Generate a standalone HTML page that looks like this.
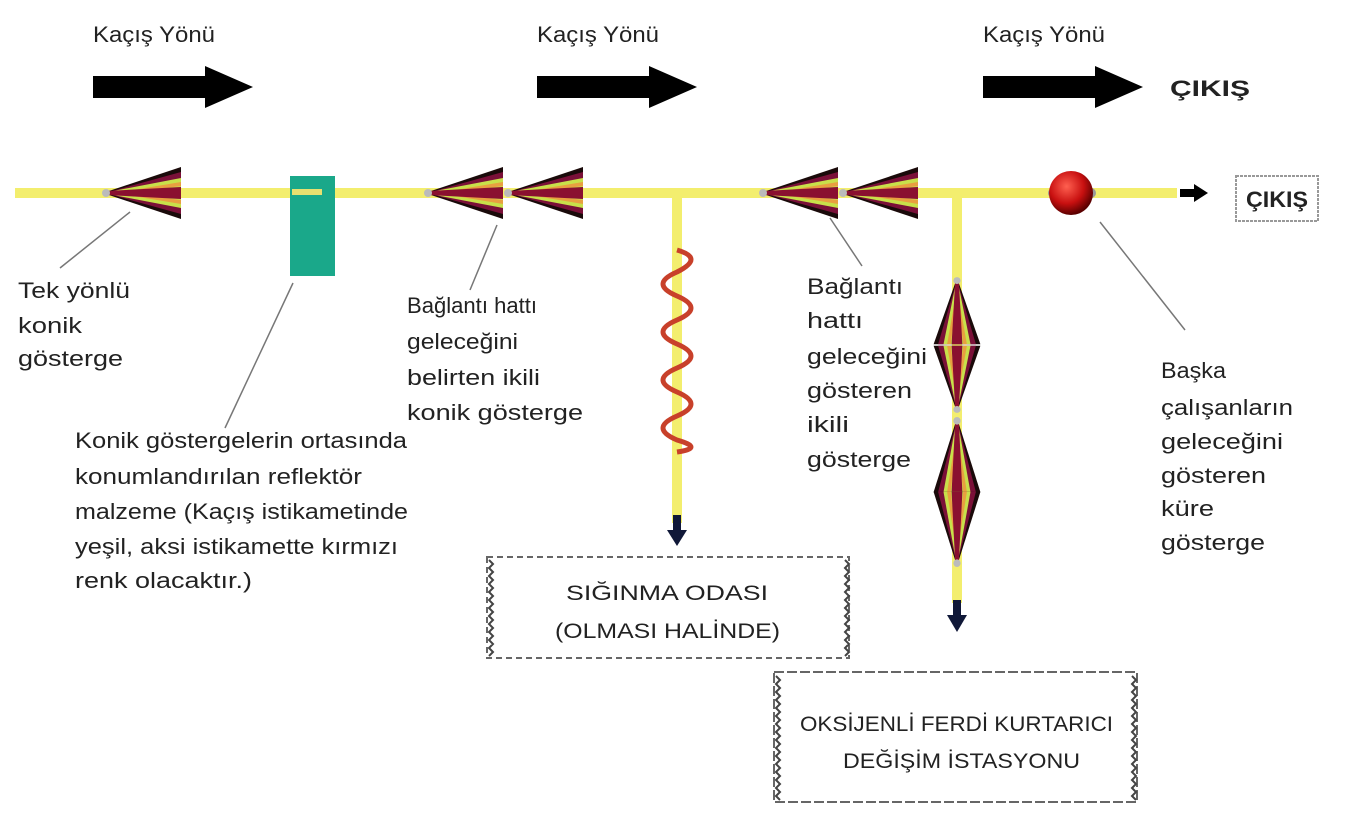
<!DOCTYPE html>
<html><head><meta charset="utf-8"><style>
html,body{margin:0;padding:0;background:#fff;}
svg{display:block;}
text{font-family:"Liberation Sans","DejaVu Sans",sans-serif;fill:#222;}
</style></head><body>
<svg width="1356" height="837" viewBox="0 0 1356 837" xmlns="http://www.w3.org/2000/svg">
<defs>
<g id="cone">
 <polygon points="0,0 78,-26 78,26" fill="#1a0a0a"/>
 <polygon points="2,0 78,-21 78,21" fill="#7a1038"/>
 <polygon points="10,-2 78,-15 78,15 10,2" fill="#c8e04a"/>
 <polygon points="30,-3 78,-11 78,-7 30,-1" fill="#e8a040"/>
 <polygon points="30,3 78,11 78,7 30,1" fill="#e8a040"/>
 <polygon points="4,-2 78,-6 78,6 4,2" fill="#8a1030"/>
 <circle cx="3" cy="0" r="4" fill="#bbb"/>
</g>
<g id="arrow">
 <polygon points="0,-11 112,-11 112,-21 160,0 112,21 112,11 0,11" fill="#000"/>
</g>
<radialGradient id="sph" cx="0.4" cy="0.35" r="0.65">
<stop offset="0" stop-color="#ff6050"/><stop offset="0.6" stop-color="#c81010"/><stop offset="1" stop-color="#5a0000"/></radialGradient>
</defs>

<g font-size="22">
<text x="93" y="42" textLength="122" lengthAdjust="spacingAndGlyphs">Kaçış Yönü</text>
<text x="537" y="42" textLength="122" lengthAdjust="spacingAndGlyphs">Kaçış Yönü</text>
<text x="983" y="42" textLength="122" lengthAdjust="spacingAndGlyphs">Kaçış Yönü</text>
</g>
<use href="#arrow" x="93" y="87"/>
<use href="#arrow" x="537" y="87"/>
<use href="#arrow" x="983" y="87"/>
<text x="1170" y="96" font-size="22" font-weight="bold" fill="#111" textLength="80" lengthAdjust="spacingAndGlyphs">ÇIKIŞ</text>

<rect x="15" y="188" width="1162" height="10" fill="#f3ee6e"/>
<rect x="672" y="193" width="10" height="330" fill="#f3ee6e"/>
<rect x="952" y="193" width="10" height="410" fill="#f3ee6e"/>
<rect x="673" y="515" width="8" height="20" fill="#101838"/>
<polygon points="667,530 687,530 677,546" fill="#101838"/>
<rect x="953" y="600" width="8" height="20" fill="#101838"/>
<polygon points="947,615 967,615 957,632" fill="#101838"/>

<path d="M677,250 q28,8 0,22 q-28,12 0,24 q28,12 0,24 q-28,12 0,24 q28,12 0,24 q-28,12 0,24 q28,12 0,24 q-28,12 0,24 q28,8 0,12" stroke="#c8402a" stroke-width="5" fill="none"/>

<rect x="290" y="176" width="45" height="100" fill="#1aa88a"/>
<rect x="292" y="189" width="30" height="6" fill="#e8e070"/>

<use href="#cone" x="103" y="193"/>
<use href="#cone" x="425" y="193"/>
<use href="#cone" x="505" y="193"/>
<use href="#cone" x="760" y="193"/>
<use href="#cone" x="840" y="193"/>

<use href="#cone" transform="translate(957,278) rotate(90) scale(0.85,0.9)"/>
<use href="#cone" transform="translate(957,412) rotate(-90) scale(0.85,0.9)"/>
<use href="#cone" transform="translate(957,418) rotate(90) scale(0.95,0.9)"/>
<use href="#cone" transform="translate(957,566) rotate(-90) scale(0.95,0.9)"/>

<circle cx="1053" cy="193" r="5" fill="#999"/>
<circle cx="1091" cy="193" r="5" fill="#999"/>
<circle cx="1071" cy="193" r="22" fill="url(#sph)"/>

<rect x="1180" y="189" width="16" height="8" fill="#000"/>
<polygon points="1194,184 1208,193 1194,202" fill="#000"/>
<rect x="1236" y="176" width="82" height="45" fill="#fff" stroke="#999" stroke-width="2" stroke-dasharray="3,1"/>
<text x="1246" y="207" font-size="22" font-weight="bold" fill="#111" textLength="62" lengthAdjust="spacingAndGlyphs">ÇIKIŞ</text>

<g stroke="#777" stroke-width="1.5">
<line x1="130" y1="212" x2="60" y2="268"/>
<line x1="293" y1="283" x2="225" y2="428"/>
<line x1="497" y1="225" x2="470" y2="290"/>
<line x1="830" y1="218" x2="862" y2="266"/>
<line x1="1100" y1="222" x2="1185" y2="330"/>
</g>

<g font-size="22" lengthAdjust="spacingAndGlyphs">
<text x="18" y="298" textLength="112" lengthAdjust="spacingAndGlyphs">Tek yönlü</text>
<text x="18" y="333" textLength="64" lengthAdjust="spacingAndGlyphs">konik</text>
<text x="18" y="366" textLength="105" lengthAdjust="spacingAndGlyphs">gösterge</text>

<text x="75" y="448" textLength="332" lengthAdjust="spacingAndGlyphs">Konik göstergelerin ortasında</text>
<text x="75" y="484" textLength="287" lengthAdjust="spacingAndGlyphs">konumlandırılan reflektör</text>
<text x="75" y="519" textLength="333" lengthAdjust="spacingAndGlyphs">malzeme (Kaçış istikametinde</text>
<text x="75" y="554" textLength="323" lengthAdjust="spacingAndGlyphs">yeşil, aksi istikamette kırmızı</text>
<text x="75" y="588" textLength="177" lengthAdjust="spacingAndGlyphs">renk olacaktır.)</text>

<text x="407" y="313" textLength="130" lengthAdjust="spacingAndGlyphs">Bağlantı hattı</text>
<text x="407" y="349" textLength="111" lengthAdjust="spacingAndGlyphs">geleceğini</text>
<text x="407" y="385" textLength="133" lengthAdjust="spacingAndGlyphs">belirten ikili</text>
<text x="407" y="420" textLength="176" lengthAdjust="spacingAndGlyphs">konik gösterge</text>

<text x="807" y="294" textLength="96" lengthAdjust="spacingAndGlyphs">Bağlantı</text>
<text x="807" y="328" textLength="56" lengthAdjust="spacingAndGlyphs">hattı</text>
<text x="807" y="364" textLength="120" lengthAdjust="spacingAndGlyphs">geleceğini</text>
<text x="807" y="398" textLength="105" lengthAdjust="spacingAndGlyphs">gösteren</text>
<text x="807" y="432" textLength="42" lengthAdjust="spacingAndGlyphs">ikili</text>
<text x="807" y="467" textLength="104" lengthAdjust="spacingAndGlyphs">gösterge</text>

<text x="1161" y="378" textLength="65" lengthAdjust="spacingAndGlyphs">Başka</text>
<text x="1161" y="415" textLength="132" lengthAdjust="spacingAndGlyphs">çalışanların</text>
<text x="1161" y="449" textLength="122" lengthAdjust="spacingAndGlyphs">geleceğini</text>
<text x="1161" y="483" textLength="105" lengthAdjust="spacingAndGlyphs">gösteren</text>
<text x="1161" y="516" textLength="53" lengthAdjust="spacingAndGlyphs">küre</text>
<text x="1161" y="550" textLength="104" lengthAdjust="spacingAndGlyphs">gösterge</text>
</g>

<g fill="none" stroke="#444" stroke-width="2">
<rect x="487" y="557" width="362" height="101" stroke-dasharray="6,4" stroke="#666"/>
<path d="M489,560 l4,4 l-4,4 l4,4 l-4,4 l4,4 l-4,4 l4,4 l-4,4 l4,4 l-4,4 l4,4 l-4,4 l4,4 l-4,4 l4,4 l-4,4 l4,4 l-4,4 l4,4 l-4,4 l4,4 l-4,4 l4,4 l-4,4"/>
<path d="M845,560 l4,4 l-4,4 l4,4 l-4,4 l4,4 l-4,4 l4,4 l-4,4 l4,4 l-4,4 l4,4 l-4,4 l4,4 l-4,4 l4,4 l-4,4 l4,4 l-4,4 l4,4 l-4,4 l4,4 l-4,4 l4,4 l-4,4"/>
<rect x="774" y="672" width="363" height="130" stroke-dasharray="10,3" stroke="#666"/>
<path d="M776,676 l4,4 l-4,4 l4,4 l-4,4 l4,4 l-4,4 l4,4 l-4,4 l4,4 l-4,4 l4,4 l-4,4 l4,4 l-4,4 l4,4 l-4,4 l4,4 l-4,4 l4,4 l-4,4 l4,4 l-4,4 l4,4 l-4,4 l4,4 l-4,4 l4,4 l-4,4 l4,4 l-4,4 l4,4"/>
<path d="M1132,676 l4,4 l-4,4 l4,4 l-4,4 l4,4 l-4,4 l4,4 l-4,4 l4,4 l-4,4 l4,4 l-4,4 l4,4 l-4,4 l4,4 l-4,4 l4,4 l-4,4 l4,4 l-4,4 l4,4 l-4,4 l4,4 l-4,4 l4,4 l-4,4 l4,4 l-4,4 l4,4 l-4,4 l4,4"/>
</g>
<g font-size="21">
<text x="566" y="600" textLength="202" lengthAdjust="spacingAndGlyphs">SIĞINMA ODASI</text>
<text x="555" y="638" textLength="225" lengthAdjust="spacingAndGlyphs">(OLMASI HALİNDE)</text>
<text x="800" y="731" textLength="313" lengthAdjust="spacingAndGlyphs">OKSİJENLİ FERDİ KURTARICI</text>
<text x="843" y="768" textLength="237" lengthAdjust="spacingAndGlyphs">DEĞİŞİM  İSTASYONU</text>
</g>
</svg>
</body></html>
